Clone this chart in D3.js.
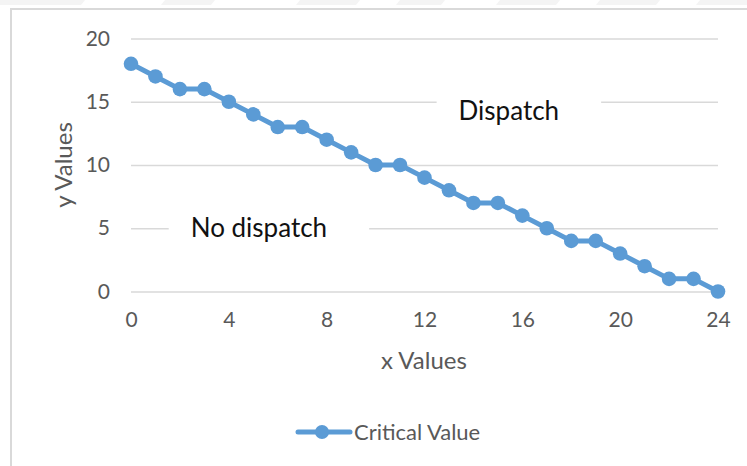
<!DOCTYPE html>
<html>
<head>
<meta charset="utf-8">
<script src="https://cdn.jsdelivr.net/npm/d3@7"></script>
<style>
  html, body { margin: 0; padding: 0; background: #fff; }
  svg { display: block; }
  text { font-family: Lato, "Open Sans", "Noto Sans", sans-serif; }
</style>
</head>
<body>
<svg id="chart" width="747" height="466"></svg>
<script>
// Critical value curve: hours 0..24
const xValues = [0,1,2,3,4,5,6,7,8,9,10,11,12,13,14,15,16,17,18,19,20,21,22,23,24];
const criticalValues = [18,17,16,16,15,14,13,13,12,11,10,10,9,8,7,7,6,5,4,4,3,2,1,1,0];
const xTicks = [0,4,8,12,16,20,24];
const yTicks = [0,5,10,15,20];
const seriesName = "Critical Value";
const regionLabels = [
  { text: "Dispatch", x: 15.45, y: 14.3 },
  { text: "No dispatch", x: 5.23, y: 5.0 }
];

const svg = d3.select("#chart");
const W = 747, H = 466;
const blue = "#5B9BD5";
const gray = "#595959";

// faint page band at the top
const band = svg.append("g");
band.append("rect").attr("x", 0).attr("y", 0).attr("width", W).attr("height", 5).attr("fill", "#f4f4f4");
[[85, 165], [215, 300], [360, 400], [445, 500], [560, 600], [660, 700]].forEach(([a, b]) => {
  band.append("polygon")
    .attr("points", `${a},0 ${b},0 ${b - 4},5 ${a - 4},5`)
    .attr("fill", "#fff");
});

// chart frame
svg.append("path")
  .attr("d", `M11,${H} L11,9 L${W},9`)
  .attr("fill", "none").attr("stroke", "#d9d9d9").attr("stroke-width", 2);

const x = d3.scaleLinear().domain([0, 24]).range([131, 718]);
const y = d3.scaleLinear().domain([0, 20]).range([291.5, 38.5]);

// gridlines
const grid = svg.append("g")
  .attr("transform", `translate(131,0)`)
  .call(d3.axisLeft(y).tickValues(yTicks).tickSize(-(718 - 131)).tickFormat(""));
grid.select(".domain").remove();
grid.selectAll("line").attr("stroke", "#d9d9d9").attr("stroke-width", 1.5);

// y tick labels
const yAxis = svg.append("g").attr("transform", "translate(131,0)")
  .call(d3.axisLeft(y).tickValues(yTicks).tickSize(0).tickPadding(21));
yAxis.select(".domain").remove();
yAxis.selectAll("text").attr("fill", gray).style("font-size", "21px")
  .style("font-family", "Lato, sans-serif");

// x tick labels
const xAxis = svg.append("g").attr("transform", "translate(0,291.5)")
  .call(d3.axisBottom(x).tickValues(xTicks).tickSize(0).tickPadding(21));
xAxis.select(".domain").remove();
xAxis.selectAll("text").attr("fill", gray).style("font-size", "21px")
  .style("font-family", "Lato, sans-serif");

// axis titles
svg.append("text").attr("x", 424).attr("y", 369).attr("text-anchor", "middle")
  .attr("fill", gray).style("font-size", "24px").text("x Values");
svg.append("text").attr("transform", `translate(72,165) rotate(-90)`)
  .attr("text-anchor", "middle").attr("fill", gray).style("font-size", "24px").text("y Values");

// region labels sit in white text boxes that interrupt the gridlines
regionLabels.forEach(d => {
  const g = svg.append("g");
  const t = g.append("text")
    .attr("x", x(d.x)).attr("y", y(d.y)).attr("dy", "0.35em")
    .attr("text-anchor", "middle").attr("fill", "#111").style("font-size", "26px")
    .text(d.text);
  const bb = t.node().getBBox();
  g.insert("rect", "text")
    .attr("x", bb.x - 22).attr("y", bb.y - 2)
    .attr("width", bb.width + 64).attr("height", bb.height + 4)
    .attr("fill", "#fff");
});

// series
const pts = xValues.map((v, i) => [v, criticalValues[i]]);
svg.append("path")
  .datum(pts)
  .attr("fill", "none").attr("stroke", blue).attr("stroke-width", 5)
  .attr("stroke-linejoin", "round")
  .attr("d", d3.line().x(d => x(d[0])).y(d => y(d[1])));
svg.append("g").selectAll("circle").data(pts).join("circle")
  .attr("cx", d => x(d[0])).attr("cy", d => y(d[1])).attr("r", 7.3)
  .attr("fill", blue);

// legend
const leg = svg.append("g");
leg.append("line").attr("x1", 298).attr("x2", 350).attr("y1", 432).attr("y2", 432)
  .attr("stroke", blue).attr("stroke-width", 5).attr("stroke-linecap", "round");
leg.append("circle").attr("cx", 322).attr("cy", 432).attr("r", 7).attr("fill", blue);
leg.append("text").attr("x", 354).attr("y", 432).attr("dy", "0.35em")
  .attr("fill", gray).style("font-size", "22px").text(seriesName);
</script>
</body>
</html>
